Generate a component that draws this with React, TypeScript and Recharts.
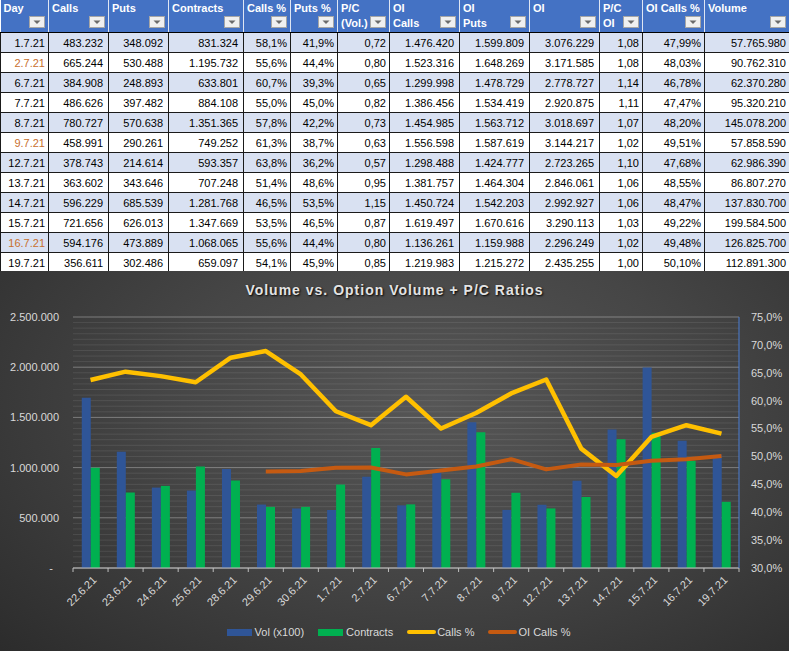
import React from "react";
import {
  ComposedChart,
  Bar,
  Line,
  XAxis,
  YAxis,
  CartesianGrid,
  Legend,
} from "recharts";

// ---- table data (1.7.21 - 19.7.21) ----
const days = ["1.7.21", "2.7.21", "6.7.21", "7.7.21", "8.7.21", "9.7.21", "12.7.21", "13.7.21", "14.7.21", "15.7.21", "16.7.21", "19.7.21"];
const orangeDays = ["2.7.21", "9.7.21", "16.7.21"];
const calls = [483232, 665244, 384908, 486626, 780727, 458991, 378743, 363602, 596229, 721656, 594176, 356611];
const puts = [348092, 530488, 248893, 397482, 570638, 290261, 214614, 343646, 685539, 626013, 473889, 302486];
const contracts = [831324, 1195732, 633801, 884108, 1351365, 749252, 593357, 707248, 1281768, 1347669, 1068065, 659097];
const callsPct = [58.1, 55.6, 60.7, 55.0, 57.8, 61.3, 63.8, 51.4, 46.5, 53.5, 55.6, 54.1];
const putsPct = [41.9, 44.4, 39.3, 45.0, 42.2, 38.7, 36.2, 48.6, 53.5, 46.5, 44.4, 45.9];
const pcVol = [0.72, 0.8, 0.65, 0.82, 0.73, 0.63, 0.57, 0.95, 1.15, 0.87, 0.8, 0.85];
const oiCalls = [1476420, 1523316, 1299998, 1386456, 1454985, 1556598, 1298488, 1381757, 1450724, 1619497, 1136261, 1219983];
const oiPuts = [1599809, 1648269, 1478729, 1534419, 1563712, 1587619, 1424777, 1464304, 1542203, 1670616, 1159988, 1215272];
const oi = [3076229, 3171585, 2778727, 2920875, 3018697, 3144217, 2723265, 2846061, 2992927, 3290113, 2296249, 2435255];
const pcOi = [1.08, 1.08, 1.14, 1.11, 1.07, 1.02, 1.1, 1.06, 1.06, 1.03, 1.02, 1.0];
const oiCallsPct = [47.99, 48.03, 46.78, 47.47, 48.2, 49.51, 47.68, 48.55, 48.47, 49.22, 49.48, 50.1];
const volume = [57765980, 90762310, 62370280, 95320210, 145078200, 57858590, 62986390, 86807270, 137830700, 199584500, 126825700, 112891300];

// ---- chart-only days before the table starts ----
const earlyDays = ["22.6.21", "23.6.21", "24.6.21", "25.6.21", "28.6.21", "29.6.21", "30.6.21"];
const earlyVolX100 = [1696000, 1159000, 801000, 771000, 987000, 632000, 593000];
const earlyContracts = [998000, 752000, 818000, 1010000, 871000, 609000, 609000];
const earlyCallsPct = [63.7, 65.2, 64.4, 63.3, 67.7, 68.9, 64.7];
const earlyOiCallsPct = [null, null, null, null, null, 47.3, 47.4];

const leftTicks = [0, 500000, 1000000, 1500000, 2000000, 2500000];
const rightTicks = [30, 35, 40, 45, 50, 55, 60, 65, 70, 75];
const RIGHT_MIN = 30;
const RIGHT_MAX = 75;

const chartDays = [...earlyDays, ...days];
const chartData = chartDays.map((day, i) => ({
  day,
  vol: i < earlyDays.length ? earlyVolX100[i] : volume[i - earlyDays.length] / 100,
  contracts: i < earlyDays.length ? earlyContracts[i] : contracts[i - earlyDays.length],
  callsPct: i < earlyDays.length ? earlyCallsPct[i] : callsPct[i - earlyDays.length],
  oiCallsPct: i < earlyDays.length ? earlyOiCallsPct[i] : oiCallsPct[i - earlyDays.length],
}));

const SERIES = [
  { name: "Vol (x100)", color: "#2F5597", kind: "bar" },
  { name: "Contracts", color: "#00B050", kind: "bar" },
  { name: "Calls %", color: "#FFC000", kind: "line" },
  { name: "OI Calls %", color: "#C55A11", kind: "line" },
];

const FONT = "'Liberation Sans', Arial, sans-serif";
const CHART_W = 789;
const CHART_H = 380;
const LEFT_W = 73;
const RIGHT_W = 50;
const BAND = (CHART_W - LEFT_W - RIGHT_W) / chartDays.length;

const fmtInt = (n: number) => String(Math.round(n)).replace(/\B(?=(\d{3})+(?!\d))/g, ".");
const fmtDec = (n: number, d: number) => n.toFixed(d).replace(".", ",");

// minor gridlines: one per 1 % step of the secondary axis
const minorGrid = ({ offset }: any) => {
  const steps = RIGHT_MAX - RIGHT_MIN;
  return Array.from({ length: steps + 1 }, (_, k) => offset.top + (offset.height * k) / steps);
};

const columns = [
  { title: ["Day"], width: 48, pad: 3 },
  { title: ["Calls"], width: 60, pad: 5 },
  { title: ["Puts"], width: 60, pad: 5 },
  { title: ["Contracts"], width: 75, pad: 5 },
  { title: ["Calls %"], width: 47, pad: 3 },
  { title: ["Puts %"], width: 47, pad: 3 },
  { title: ["P/C", "(Vol.)"], width: 52, pad: 3 },
  { title: ["OI", "Calls"], width: 70, pad: 5 },
  { title: ["OI", "Puts"], width: 70, pad: 5 },
  { title: ["OI"], width: 70, pad: 5 },
  { title: ["P/C", "OI"], width: 43, pad: 3 },
  { title: ["OI Calls %"], width: 62, pad: 3 },
  { title: ["Volume"], width: 85, pad: 3 },
];

function FilterButton() {
  return (
    <svg width={16} height={12} style={{ position: "absolute", right: 3, top: 16 }}>
      <rect x={0.5} y={0.5} width={15} height={11} fill="#f0f0f0" stroke="#a6a6a6" />
      <path d="M4.5 4.5 L11.5 4.5 L8 8 Z" fill="#6b6b6b" />
    </svg>
  );
}

function DataTable() {
  return (
    <table
      style={{
        position: "absolute",
        top: 0,
        left: 0,
        width: CHART_W,
        tableLayout: "fixed",
        borderCollapse: "collapse",
        fontFamily: FONT,
        fontSize: 11,
      }}
    >
      <colgroup>
        {columns.map((c) => (
          <col key={c.title.join()} style={{ width: c.width }} />
        ))}
      </colgroup>
      <thead>
        <tr style={{ height: 30 }}>
          {columns.map((c) => (
            <th
              key={c.title.join()}
              style={{
                position: "relative",
                background: "#4472C4",
                color: "#fff",
                textAlign: "left",
                verticalAlign: "top",
                padding: "1px 3px",
                lineHeight: "15px",
                fontWeight: "bold",
                borderRight: "1px solid #dfe6f3",
                borderBottom: "1px solid #000",
                overflow: "hidden",
                whiteSpace: "nowrap",
              }}
            >
              {c.title.map((t) => (
                <div key={t}>{t}</div>
              ))}
              <FilterButton />
            </th>
          ))}
        </tr>
      </thead>
      <tbody>
        {days.map((day, i) => {
          const cells = [
            day,
            fmtInt(calls[i]),
            fmtInt(puts[i]),
            fmtInt(contracts[i]),
            fmtDec(callsPct[i], 1) + "%",
            fmtDec(putsPct[i], 1) + "%",
            fmtDec(pcVol[i], 2),
            fmtInt(oiCalls[i]),
            fmtInt(oiPuts[i]),
            fmtInt(oi[i]),
            fmtDec(pcOi[i], 2),
            fmtDec(oiCallsPct[i], 2) + "%",
            fmtInt(volume[i]),
          ];
          return (
            <tr key={day} style={{ height: 20, background: i % 2 === 0 ? "#D9E1F2" : "#fff" }}>
              {cells.map((v, j) => (
                <td
                  key={j}
                  style={{
                    border: "1px solid #1a1a1a",
                    textAlign: "right",
                    padding: `0 ${columns[j].pad}px 0 0`,
                    color: j === 0 && orangeDays.includes(day) ? "#C8702E" : "#000",
                    whiteSpace: "nowrap",
                    lineHeight: "18px",
                  }}
                >
                  {v}
                </td>
              ))}
            </tr>
          );
        })}
      </tbody>
    </table>
  );
}

function DayTick(props: any) {
  const { x, y, payload, index } = props;
  const half = BAND / 2;
  const tx = x + 4;
  const ty = y + 10;
  return (
    <g>
      <line x1={x - half} x2={x - half} y1={y} y2={y + 4} stroke="#bfbfbf" />
      {index === chartDays.length - 1 && (
        <line x1={x + half} x2={x + half} y1={y} y2={y + 4} stroke="#bfbfbf" />
      )}
      <text
        x={tx}
        y={ty}
        dy="0.355em"
        textAnchor="end"
        fill="#d9d9d9"
        fontSize={11}
        fontFamily={FONT}
        transform={`rotate(-45 ${tx} ${ty})`}
      >
        {payload.value}
      </text>
    </g>
  );
}

function LegendContent() {
  return (
    <div
      style={{
        height: 20,
        display: "flex",
        justifyContent: "center",
        alignItems: "center",
        fontFamily: FONT,
        fontSize: 11,
        color: "#d9d9d9",
        paddingLeft: 8,
      }}
    >
      {SERIES.map((s, i) => (
        <div
          key={s.name}
          style={{ display: "flex", alignItems: "center", marginRight: i === SERIES.length - 1 ? 0 : 14 }}
        >
          {s.kind === "bar" ? (
            <span style={{ width: 25, height: 7, background: s.color, marginRight: 3 }} />
          ) : (
            <span style={{ width: 29, height: 4, borderRadius: 2, background: s.color, marginRight: 1 }} />
          )}
          <span>{s.name}</span>
        </div>
      ))}
    </div>
  );
}

export default function App() {
  return (
    <div style={{ position: "relative", width: CHART_W, height: 651, overflow: "hidden", background: "#fff" }}>
      <style>{`body{margin:0}`}</style>
      <DataTable />
      <div
        style={{
          position: "absolute",
          top: 271,
          left: 0,
          width: CHART_W,
          height: CHART_H,
          background:
            "radial-gradient(ellipse 75% 95% at 55% 35%, #565656 0%, #464646 45%, #2c2c2c 100%)",
        }}
      >
        <div
          style={{
            position: "absolute",
            top: 11,
            left: 0,
            width: CHART_W,
            textAlign: "center",
            fontFamily: FONT,
            fontWeight: "bold",
            fontSize: 14,
            letterSpacing: 1,
            color: "#e3e3e3",
            textShadow: "1px 1px 2px #000",
          }}
        >
          Volume vs. Option Volume + P/C Ratios
        </div>
        <ComposedChart
          width={CHART_W}
          height={CHART_H}
          data={chartData}
          margin={{ top: 46, right: 0, left: 0, bottom: 9 }}
          barCategoryGap="25%"
          barGap={0}
          style={{ fontFamily: FONT }}
        >
          <CartesianGrid
            vertical={false}
            stroke="rgba(255,255,255,0.09)"
            horizontalCoordinatesGenerator={minorGrid}
          />
          <CartesianGrid yAxisId="left" vertical={false} stroke="rgba(255,255,255,0.25)" />
          <XAxis
            dataKey="day"
            interval={0}
            height={54}
            tickSize={0}
            tickMargin={0}
            tickLine={false}
            axisLine={{ stroke: "#bfbfbf" }}
            tick={<DayTick />}
          />
          <YAxis
            yAxisId="left"
            width={LEFT_W}
            domain={[0, 2500000]}
            ticks={leftTicks}
            tickFormatter={(v: number) => (v === 0 ? "-\u2007" : fmtInt(v))}
            axisLine={false}
            tickLine={false}
            tickSize={0}
            tickMargin={14}
            tick={{ fill: "#d9d9d9", fontSize: 11 }}
          />
          <YAxis
            yAxisId="right"
            orientation="right"
            width={RIGHT_W}
            domain={[RIGHT_MIN, RIGHT_MAX]}
            ticks={rightTicks}
            tickFormatter={(v: number) => fmtDec(v, 1) + "%"}
            axisLine={{ stroke: "#4a7fd6" }}
            tickLine={false}
            tickSize={0}
            tickMargin={12}
            tick={{ fill: "#d9d9d9", fontSize: 11 }}
          />
          <Legend verticalAlign="bottom" content={<LegendContent />} />
          <Bar yAxisId="left" dataKey="vol" name="Vol (x100)" fill="#2F5597" isAnimationActive={false} />
          <Bar yAxisId="left" dataKey="contracts" name="Contracts" fill="#00B050" isAnimationActive={false} />
          <Line
            yAxisId="right"
            type="linear"
            dataKey="callsPct"
            name="Calls %"
            stroke="#FFC000"
            strokeWidth={4.5}
            strokeLinejoin="round"
            dot={false}
            isAnimationActive={false}
          />
          <Line
            yAxisId="right"
            type="linear"
            dataKey="oiCallsPct"
            name="OI Calls %"
            stroke="#C55A11"
            strokeWidth={4}
            strokeLinejoin="round"
            dot={false}
            isAnimationActive={false}
          />
        </ComposedChart>
      </div>
    </div>
  );
}
